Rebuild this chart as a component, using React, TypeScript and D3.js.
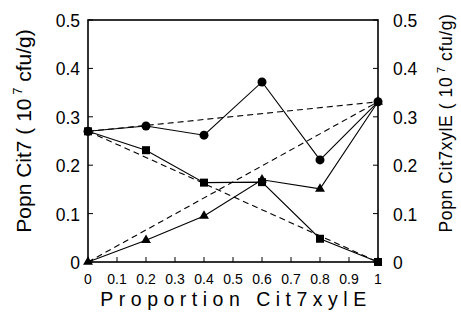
import React from "react";
import * as d3 from "d3";

// proportion of Cit7xylE in the inoculum
const proportions = [0, 0.2, 0.4, 0.6, 0.8, 1];
const totalPopn = [0.27, 0.281, 0.262, 0.372, 0.211, 0.331];
const cit7Popn = [0.27, 0.231, 0.164, 0.165, 0.048, 0];
const xylEPopn = [0, 0.045, 0.095, 0.17, 0.151, 0.331];
// expected (dashed) lines: [start, end]
const expected = [
  [0.27, 0.331],
  [0.27, 0],
  [0, 0.331],
];
const xTicks = d3.range(0, 11).map((i) => i / 10);
const yTicks = [0, 0.1, 0.2, 0.3, 0.4, 0.5];

const W = 461;
const H = 323;
const m = { left: 88, right: 83, top: 20, bottom: 61 };

const App = () => {
  const x = d3.scaleLinear().domain([0, 1]).range([m.left, W - m.right]);
  const y = d3.scaleLinear().domain([0, 0.5]).range([H - m.bottom, m.top]);
  const line = d3
    .line<[number, number]>()
    .x((d) => x(d[0]))
    .y((d) => y(d[1]));
  const pts = (vals: number[]) => proportions.map((p, i) => [p, vals[i]] as [number, number]);
  const font = "Liberation Sans, Arial, Helvetica, sans-serif";
  const tri = d3.symbol().type(d3.symbolTriangle).size(42)();
  const fmt = (t: number) => (t === 0 || t === 1 ? String(t) : t.toFixed(1));

  return (
    <svg
      width={W}
      height={H}
      style={{ position: "absolute", left: 0, top: 0, background: "#fff" }}
      fontFamily={font}
    >
      {/* frame */}
      <rect
        x={x(0)}
        y={y(0.5)}
        width={x(1) - x(0)}
        height={y(0) - y(0.5)}
        fill="none"
        stroke="#000"
        strokeWidth={1.6}
      />
      {/* ticks */}
      {yTicks.map((t) => (
        <g key={"y" + t}>
          <line x1={x(0)} x2={x(0) + 5} y1={y(t)} y2={y(t)} stroke="#000" strokeWidth={1} />
          <line x1={x(1)} x2={x(1) - 5} y1={y(t)} y2={y(t)} stroke="#000" strokeWidth={1} />
          <text x={x(0) - 8} y={y(t) + 7} textAnchor="end" fontSize={17.5}>
            {fmt(t)}
          </text>
          <text x={x(1) + 15} y={y(t) + 7} textAnchor="start" fontSize={17.5}>
            {fmt(t)}
          </text>
        </g>
      ))}
      {xTicks.map((t) => (
        <g key={"x" + t}>
          <line x1={x(t)} x2={x(t)} y1={y(0)} y2={y(0) - 5} stroke="#000" strokeWidth={1} />
          <text x={x(t)} y={y(0) + 22} textAnchor="middle" fontSize={14}>
            {fmt(t)}
          </text>
        </g>
      ))}
      {/* expected dashed lines */}
      {expected.map((e, i) => (
        <path
          key={"d" + i}
          d={line([
            [0, e[0]],
            [1, e[1]],
          ]) as string}
          fill="none"
          stroke="#000"
          strokeWidth={1.1}
          strokeDasharray="6,4"
        />
      ))}
      {/* observed */}
      {[totalPopn, cit7Popn, xylEPopn].map((s, i) => (
        <path key={"s" + i} d={line(pts(s)) as string} fill="none" stroke="#000" strokeWidth={1.1} />
      ))}
      {pts(totalPopn).map((d, i) => (
        <circle key={"c" + i} cx={x(d[0])} cy={y(d[1])} r={4.5} fill="#000" />
      ))}
      {pts(cit7Popn).map((d, i) => (
        <rect key={"q" + i} x={x(d[0]) - 4} y={y(d[1]) - 4} width={8} height={8} fill="#000" />
      ))}
      {pts(xylEPopn).map((d, i) => (
        <path key={"t" + i} d={tri as string} transform={`translate(${x(d[0])},${y(d[1])})`} fill="#000" />
      ))}
      {/* axis titles */}
      <text x={236} y={306} textAnchor="middle" fontSize={19.5} letterSpacing={5.5}>
        Proportion Cit7xylE
      </text>
      <text transform="translate(31,131) rotate(-90)" textAnchor="middle" fontSize={21}>
        Popn Cit7 (  10<tspan dy={-9} fontSize={13}> 7</tspan>
        <tspan dy={9}> cfu/g)</tspan>
      </text>
      <text transform="translate(452,123) rotate(-90)" textAnchor="middle" fontSize={17.5} letterSpacing={0.6}>
        Popn Cit7xylE (  10<tspan dy={-7} fontSize={11}> 7</tspan>
        <tspan dy={7}> cfu/g)</tspan>
      </text>
    </svg>
  );
};

export default App;
